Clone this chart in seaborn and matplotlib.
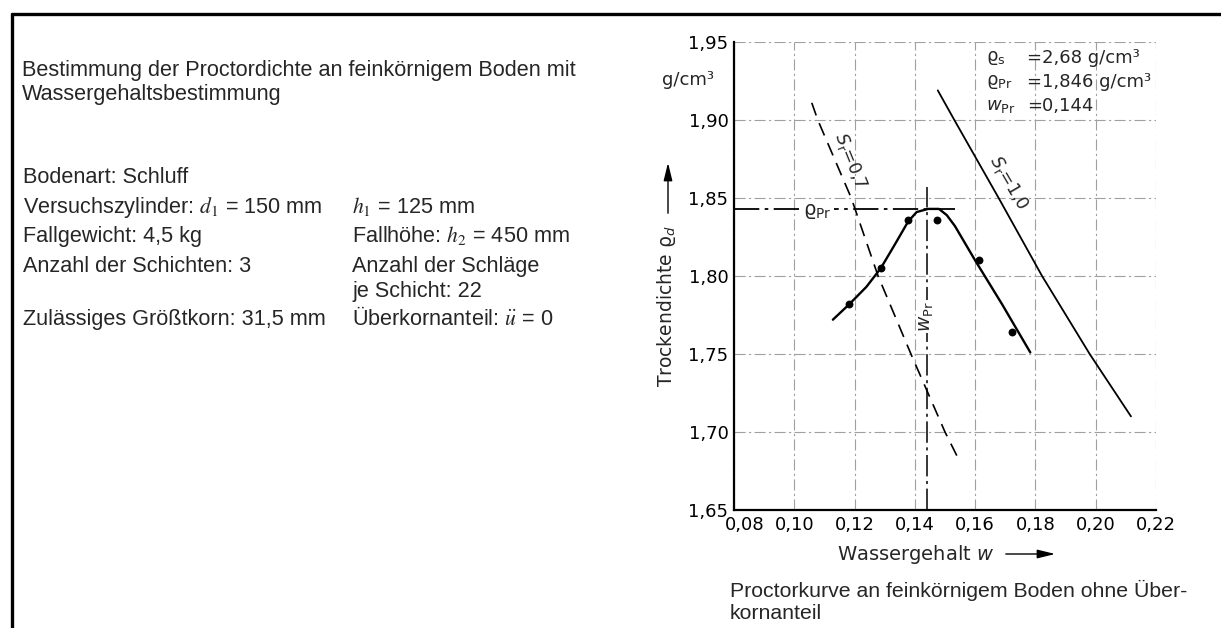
import matplotlib
matplotlib.use("Agg")
import matplotlib.pyplot as plt
import matplotlib.transforms as mtransforms
from matplotlib.lines import Line2D
import pandas as pd
import seaborn as sns

# Proctor curve as drawn (water content w, dry density rho_d in g/cm3)
curve_w = [0.1128, 0.1183, 0.1239, 0.1287, 0.1333, 0.1378, 0.1406, 0.1444,
           0.1480, 0.1506, 0.1533, 0.1600, 0.1689, 0.1783]
curve_rho = [1.772, 1.782, 1.793, 1.805, 1.820, 1.835, 1.841, 1.843,
             1.843, 1.839, 1.832, 1.810, 1.782, 1.751]

# measured points
test_w = [0.1183, 0.1287, 0.1378, 0.1474, 0.1614, 0.1723]
test_rho = [1.782, 1.805, 1.836, 1.836, 1.810, 1.764]

# saturation lines
sat07_w = [0.1058, 0.1078, 0.1189, 0.1278, 0.1387, 0.1500, 0.1544]
sat07_rho = [1.911, 1.900, 1.850, 1.800, 1.750, 1.700, 1.683]
sat10_w = [0.1476, 0.1531, 0.1678, 0.1822, 0.1980, 0.2117]
sat10_rho = [1.919, 1.900, 1.850, 1.800, 1.750, 1.710]

rho_pr_drawn = 1.843
w_pr = 0.144

x_ticks = [0.08, 0.10, 0.12, 0.14, 0.16, 0.18, 0.20, 0.22]
y_ticks = [1.65, 1.70, 1.75, 1.80, 1.85, 1.90, 1.95]

info_left = ["Bodenart: Schluff",
             "Versuchszylinder: $d_1$ = 150 mm",
             "Fallgewicht: 4,5 kg",
             "Anzahl der Schichten: 3",
             "Zulässiges Größtkorn: 31,5 mm"]
info_left_y = [183, 213, 242, 272, 325]
info_right = ["$h_1$ = 125 mm",
              "Fallhöhe: $h_2$ = 450 mm",
              "Anzahl der Schläge",
              "je Schicht: 22",
              "Überkornanteil: $\\ddot{u}$ = 0"]
info_right_y = [213, 242, 272, 297, 325]

W, H = 1221, 628
sns.set_theme(style="white")
plt.rcParams["font.family"] = ["DejaVu Sans"]
plt.rcParams["mathtext.fontset"] = "dejavusans"
TXT = "#262626"
BODY_SIZE = 15.6


def fx(px):
    return px / W


def fy(py):
    return 1 - py / H


fig = plt.figure(figsize=(W / 100, H / 100), dpi=100)
ax = fig.add_axes([734 / W, 1 - 510 / H, 422 / W, 468 / H])

df_curve = pd.DataFrame({"w": curve_w, "rho": curve_rho})
sns.lineplot(data=df_curve, x="w", y="rho", sort=False, estimator=None,
             color="black", lw=1.7, ax=ax)
sns.scatterplot(x=test_w, y=test_rho, color="black", s=32, linewidth=0, ax=ax, zorder=5)
sns.lineplot(x=sat07_w, y=sat07_rho, sort=False, estimator=None, color="black",
             lw=1.2, linestyle=(0, (8, 5)), ax=ax)
sns.lineplot(x=sat10_w, y=sat10_rho, sort=False, estimator=None, color="black",
             lw=1.3, ax=ax)

# rho_Pr and w_Pr construction lines
ax.plot([0.08, 0.1533], [rho_pr_drawn, rho_pr_drawn], color="black", lw=1.3,
        linestyle=(0, (14, 3, 2, 3)))
ax.plot([w_pr, w_pr], [1.65, 1.857], color="black", lw=1.1,
        linestyle=(0, (14, 3, 2, 3)))
ax.text(0.1077, 1.8412, "ϱ$_{\\rm Pr}$", ha="center", va="center", fontsize=14,
        bbox=dict(fc="white", ec="none", pad=1.5), zorder=6)
ax.text(w_pr, 1.774, "$w_{\\rm Pr}$", ha="center", va="center", rotation=90,
        fontsize=13.5, bbox=dict(fc="white", ec="none", pad=1), zorder=6)

ax.text(0.1187, 1.874, "$S_{\\rm r}$=0,7", rotation=-68, rotation_mode="anchor",
        ha="center", va="center", fontsize=12.5)
ax.text(0.1712, 1.860, "$S_{\\rm r}$=1,0", rotation=-59.6, rotation_mode="anchor",
        ha="center", va="center", fontsize=12.5)

ax.set_xlim(0.08, 0.22)
ax.set_ylim(1.65, 1.95)
ax.set_xticks(x_ticks)
ax.set_yticks(y_ticks)
ax.set_xticklabels([f"{v:.2f}".replace(".", ",") for v in x_ticks])
ax.set_yticklabels([f"{v:.2f}".replace(".", ",") for v in y_ticks])
ax.tick_params(length=0, labelsize=13, colors="black", pad=4)
ax.grid(True, color="#a0a0a0", lw=0.8, linestyle=(0, (10, 3, 2, 3)))
ax.set_xlabel("")
ax.set_ylabel("")
for side in ["top", "right"]:
    ax.spines[side].set_visible(False)
for side in ["left", "bottom"]:
    ax.spines[side].set_color("black")
    ax.spines[side].set_linewidth(1.6)

# first x label sits right of the corner
lbl = ax.get_xticklabels()[0]
lbl.set_transform(lbl.get_transform() + mtransforms.ScaledTranslation(0.11, 0, fig.dpi_scale_trans))

# axis labels with arrows
fig.text(fx(667), fy(306), "Trockendichte ϱ$_{d}$", rotation=90, ha="center",
         va="center", fontsize=13.5)
fig.text(fx(714), fy(80), "g/cm³", ha="right", va="center", fontsize=13)
ax.annotate("", xy=(fx(668), fy(160)), xytext=(fx(668), fy(216)),
            xycoords="figure fraction", textcoords="figure fraction",
            arrowprops=dict(arrowstyle="-|>,head_length=0.9,head_width=0.22",
                            color="black", lw=1))
fig.text(fx(837), fy(560), "Wassergehalt $w$", ha="left", va="baseline", fontsize=14)
ax.annotate("", xy=(fx(1058), fy(554)), xytext=(fx(1003), fy(554)),
            xycoords="figure fraction", textcoords="figure fraction",
            arrowprops=dict(arrowstyle="-|>,head_length=0.9,head_width=0.22",
                            color="black", lw=1))

# characteristic values
for sym, val, yy in [("ϱ$_{\\rm s}$", "=2,68 g/cm³", 58),
                     ("ϱ$_{\\rm Pr}$", "=1,846 g/cm³", 82),
                     ("$w_{\\rm Pr}$", "=0,144", 106)]:
    fig.text(fx(986), fy(yy), sym, ha="left", va="center", fontsize=13)
    fig.text(fx(1027), fy(yy), val, ha="left", va="center", fontsize=13)

# caption
fig.text(fx(730), fy(597), "Proctorkurve an feinkörnigem Boden ohne Über-",
         fontfamily="Liberation Sans", fontsize=15.3, va="baseline", color=TXT)
fig.text(fx(730), fy(619), "kornanteil",
         fontfamily="Liberation Sans", fontsize=15.3, va="baseline", color=TXT)

# left description
fig.text(fx(22), fy(76), "Bestimmung der Proctordichte an feinkörnigem Boden mit",
         fontfamily="Liberation Sans", fontsize=BODY_SIZE, va="baseline", color=TXT)
fig.text(fx(22), fy(100), "Wassergehaltsbestimmung",
         fontfamily="Liberation Sans", fontsize=BODY_SIZE, va="baseline", color=TXT)
for txt, yy in zip(info_left, info_left_y):
    fig.text(fx(23), fy(yy), txt, fontfamily="Liberation Sans", fontsize=BODY_SIZE,
             va="baseline", color=TXT, math_fontfamily="stix")
for txt, yy in zip(info_right, info_right_y):
    fig.text(fx(352), fy(yy), txt, fontfamily="Liberation Sans", fontsize=BODY_SIZE,
             va="baseline", color=TXT, math_fontfamily="stix")

# page frame
fig.add_artist(Line2D([fx(12), 1], [fy(14), fy(14)], color="black", lw=2.4))
fig.add_artist(Line2D([fx(12), fx(12)], [fy(14), 0], color="black", lw=2.4))

fig.savefig("out.png", dpi=100, facecolor="white")
